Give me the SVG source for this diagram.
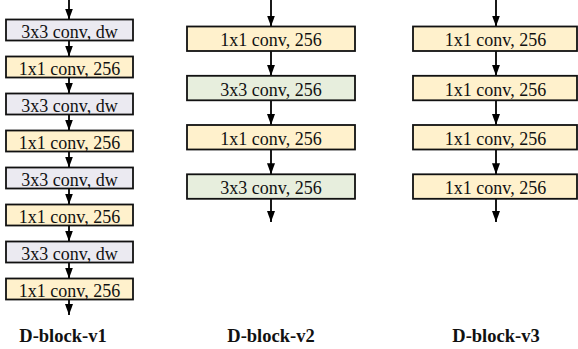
<svg xmlns="http://www.w3.org/2000/svg" width="578" height="349" viewBox="0 0 578 349">
<defs>
<marker id="ah" markerUnits="userSpaceOnUse" markerWidth="11" markerHeight="8" refX="11" refY="4" orient="auto" viewBox="0 0 11 8">
<path d="M0,0 L11,4 L0,8 z" fill="#000"/>
</marker>
</defs>
<style>
.box{stroke:#111;stroke-width:1.8}
.y{fill:#fff1cc}
.g{fill:#e7eedd}
.p{fill:#ebeaf1}
.t{font-family:'Liberation Serif','Times New Roman','DejaVu Serif',serif;font-size:18px;fill:#111;text-anchor:middle}
.lb{font-family:'Liberation Serif','Times New Roman','DejaVu Serif',serif;font-size:18.5px;font-weight:bold;fill:#111;text-anchor:middle}
.c line{stroke:#000;stroke-width:1.8;marker-end:url(#ah)}
</style>
<g class="c" id="connectors">
<line x1="69" y1="0" x2="69" y2="19.5"/>
<line x1="69" y1="40.5" x2="69" y2="56.5"/>
<line x1="69" y1="77.5" x2="69" y2="93.5"/>
<line x1="69" y1="114.5" x2="69" y2="130.5"/>
<line x1="69" y1="151.5" x2="69" y2="167.5"/>
<line x1="69" y1="188.5" x2="69" y2="204.5"/>
<line x1="69" y1="225.5" x2="69" y2="241.5"/>
<line x1="69" y1="262.5" x2="69" y2="278.5"/>
<line x1="69" y1="299.5" x2="69" y2="315"/>
<line x1="271" y1="0" x2="271" y2="26.5"/>
<line x1="271" y1="51" x2="271" y2="75.8"/>
<line x1="271" y1="100.3" x2="271" y2="125"/>
<line x1="271" y1="149.5" x2="271" y2="174.3"/>
<line x1="271" y1="198.8" x2="271" y2="222"/>
<line x1="496" y1="0" x2="496" y2="26.5"/>
<line x1="496" y1="51" x2="496" y2="75.8"/>
<line x1="496" y1="100.3" x2="496" y2="125"/>
<line x1="496" y1="149.5" x2="496" y2="174.3"/>
<line x1="496" y1="198.8" x2="496" y2="222"/>
</g>
<g id="v1-1"><rect class="box p" x="6" y="19.5" width="127" height="21"/><text class="t" x="69.5" y="37.5">3x3 conv, dw</text></g>
<g id="v1-2"><rect class="box y" x="6" y="56.5" width="127" height="21"/><text class="t" x="69.5" y="74.5">1x1 conv, 256</text></g>
<g id="v1-3"><rect class="box p" x="6" y="93.5" width="127" height="21"/><text class="t" x="69.5" y="111.5">3x3 conv, dw</text></g>
<g id="v1-4"><rect class="box y" x="6" y="130.5" width="127" height="21"/><text class="t" x="69.5" y="148.5">1x1 conv, 256</text></g>
<g id="v1-5"><rect class="box p" x="6" y="167.5" width="127" height="21"/><text class="t" x="69.5" y="185.5">3x3 conv, dw</text></g>
<g id="v1-6"><rect class="box y" x="6" y="204.5" width="127" height="21"/><text class="t" x="69.5" y="222.5">1x1 conv, 256</text></g>
<g id="v1-7"><rect class="box p" x="6" y="241.5" width="127" height="21"/><text class="t" x="69.5" y="259.5">3x3 conv, dw</text></g>
<g id="v1-8"><rect class="box y" x="6" y="278.5" width="127" height="21"/><text class="t" x="69.5" y="296.5">1x1 conv, 256</text></g>
<g id="v2-1"><rect class="box y" x="187" y="26.5" width="168" height="24.5"/><text class="t" x="271" y="46.3">1x1 conv, 256</text></g>
<g id="v2-2"><rect class="box g" x="187" y="75.8" width="168" height="24.5"/><text class="t" x="271" y="95.6">3x3 conv, 256</text></g>
<g id="v2-3"><rect class="box y" x="187" y="125" width="168" height="24.5"/><text class="t" x="271" y="144.8">1x1 conv, 256</text></g>
<g id="v2-4"><rect class="box g" x="187" y="174.3" width="168" height="24.5"/><text class="t" x="271" y="194.1">3x3 conv, 256</text></g>
<g id="v3-1"><rect class="box y" x="413" y="26.5" width="164" height="24.5"/><text class="t" x="495.5" y="46.3">1x1 conv, 256</text></g>
<g id="v3-2"><rect class="box y" x="413" y="75.8" width="164" height="24.5"/><text class="t" x="495.5" y="95.6">1x1 conv, 256</text></g>
<g id="v3-3"><rect class="box y" x="413" y="125" width="164" height="24.5"/><text class="t" x="495.5" y="144.8">1x1 conv, 256</text></g>
<g id="v3-4"><rect class="box y" x="413" y="174.3" width="164" height="24.5"/><text class="t" x="495.5" y="194.1">1x1 conv, 256</text></g>
<g id="labels">
<text class="lb" x="63" y="342">D-block-v1</text>
<text class="lb" x="271" y="342">D-block-v2</text>
<text class="lb" x="496" y="342">D-block-v3</text>
</g>
</svg>
